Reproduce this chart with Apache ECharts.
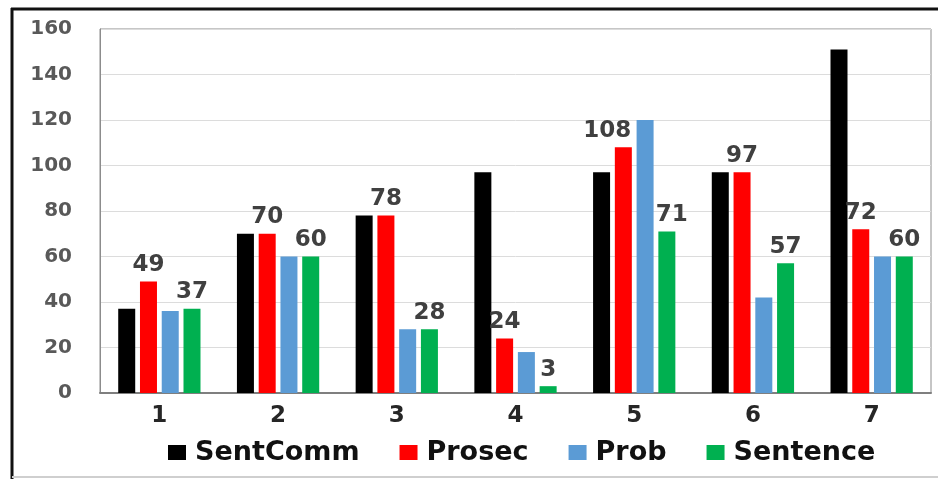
<!DOCTYPE html>
<html>
<head>
<meta charset="utf-8">
<script src="https://cdn.jsdelivr.net/npm/echarts@6/dist/echarts.min.js"></script>
<style>
  html, body { margin: 0; padding: 0; background: #ffffff; }
  #chart { width: 938px; height: 479px; }
</style>
</head>
<body>
<div id="chart"></div>
<script>
// Categories and series values
var categories = ['1', '2', '3', '4', '5', '6', '7'];
var sentComm = [37, 70, 78, 97, 97, 97, 151];
var prosec   = [49, 70, 78, 24, 108, 97, 72];
var prob     = [36, 60, 28, 18, 120, 42, 60];
var sentence = [37, 60, 28, 3, 71, 57, 60];
var yTicks   = [0, 20, 40, 60, 80, 100, 120, 140, 160];

var FONT = '"DejaVu Sans", sans-serif';

var chart = echarts.init(document.getElementById('chart'), null, { renderer: 'canvas' });

var valueLabel = {
  show: true,
  position: 'top',
  distance: 5,
  fontFamily: FONT,
  fontWeight: 'bold',
  fontSize: 23,
  color: '#404040'
};

// The "108" label sits left of its bar so it clears the taller neighbour
function labelled(values, shifts) {
  return values.map(function (v, i) {
    var item = { value: v };
    if (shifts && shifts[i]) {
      item.label = { offset: [shifts[i], 0] };
    }
    return item;
  });
}

function barSeries(name, color, data, withLabel) {
  return {
    name: name,
    type: 'bar',
    data: data,
    barWidth: 17,
    barGap: '28%',
    itemStyle: { color: color },
    label: withLabel ? valueLabel : { show: false },
    emphasis: { disabled: true }
  };
}

var option = {
  animation: false,
  backgroundColor: '#ffffff',
  grid: {
    left: 100, right: 7, top: 29, bottom: 86,
    show: true, borderColor: '#8c8c8c', borderWidth: 1
  },
  legend: {
    top: 434,
    left: 163,
    icon: 'rect',
    itemWidth: 18,
    itemHeight: 15,
    itemGap: 40,
    textStyle: {
      fontFamily: FONT, fontWeight: 'bold', fontSize: 27, color: '#111111',
      padding: [0, 0, 0, 4]
    },
    data: ['SentComm', 'Prosec', 'Prob', 'Sentence']
  },
  xAxis: {
    type: 'category',
    data: categories,
    axisLine: { lineStyle: { color: '#7f7f7f', width: 2 } },
    axisTick: { show: false },
    axisLabel: { margin: 12, fontFamily: FONT, fontWeight: 'bold', fontSize: 23, color: '#262626' }
  },
  yAxis: {
    type: 'value',
    min: yTicks[0],
    max: yTicks[yTicks.length - 1],
    interval: yTicks[1] - yTicks[0],
    axisLine: { show: true, lineStyle: { color: '#8c8c8c' } },
    axisTick: { show: false },
    splitLine: { lineStyle: { color: '#dcdcdc', width: 1 } },
    axisLabel: { margin: 28, fontFamily: FONT, fontWeight: 'bold', fontSize: 20, color: '#595959' }
  },
  graphic: [
    // outer frame: heavy top and left rules, faint bottom rule
    { type: 'line', shape: { x1: 11, y1: 9, x2: 938, y2: 9 }, style: { stroke: '#111111', lineWidth: 3 } },
    { type: 'line', shape: { x1: 12, y1: 8, x2: 12, y2: 479 }, style: { stroke: '#111111', lineWidth: 3 } },
    { type: 'line', shape: { x1: 12, y1: 477, x2: 938, y2: 477 }, style: { stroke: '#cfcfcf', lineWidth: 2 } }
  ],
  series: [
    barSeries('SentComm', '#000000', sentComm, false),
    barSeries('Prosec', '#ff0000', labelled(prosec, { 4: -16 }), true),
    barSeries('Prob', '#5b9bd5', prob, false),
    barSeries('Sentence', '#00b050', labelled(sentence, { 4: 5 }), true)
  ]
};

chart.setOption(option);
</script>
</body>
</html>
